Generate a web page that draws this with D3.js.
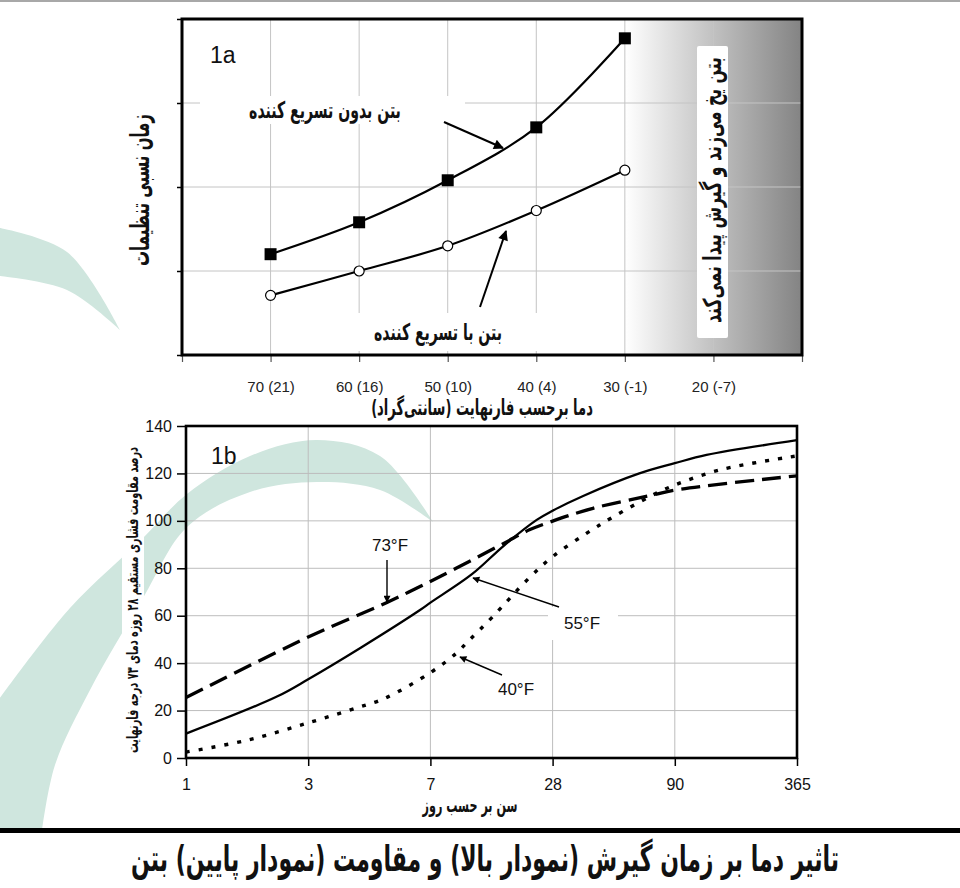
<!DOCTYPE html>
<html>
<head>
<meta charset="utf-8">
<script src="https://cdn.jsdelivr.net/npm/d3@7"></script>
<style>
  body { margin: 0; background: #fff; }
  svg { display: block; }
</style>
</head>
<body>
<div id="chart"></div>
<script>
// ---- data ----
// 1a: relative setting time vs temperature
const tempLabels = ["70 (21)", "60 (16)", "50 (10)", "40 (4)", "30 (-1)", "20 (-7)"];
const setNoAccel = [1.2, 1.58, 2.08, 2.71, 3.77];   // squares
const setAccel   = [0.71, 1.0, 1.30, 1.72, 2.2];    // circles

// 1b: % of 28-day strength vs age (equal-spaced categories)
const ageLabels = ["1", "3", "7", "28", "90", "365"];
const strengthTicks = [0, 20, 40, 60, 80, 100, 120, 140];
// positions are fractions along the category axis (0 = "1", 5 = "365")
const pos55 = [0, 0.74, 1, 1.43, 1.915, 2, 2.34, 2.6, 2.87, 3, 3.25, 3.71, 4, 4.26, 5];
const val55 = [10.3, 25.8, 33.2, 46.5, 62.4, 65.5, 77.5, 89.5, 100.4, 104.3, 110.5, 120, 124.3, 127.8, 134];
const pos73 = [0, 1, 1.64, 1.915, 2.21, 2.6, 2.81, 3, 3.33, 3.82, 4, 5];
const val73 = [25.5, 51, 65.5, 72.3, 80, 90.5, 96.2, 99.9, 105.3, 110.9, 113, 119];
const pos40 = [0, 0.5, 1, 1.42, 1.62, 2, 2.21, 2.32, 2.51, 2.79, 3, 3.28, 3.5, 3.82, 4, 4.37, 5];
const val40 = [2.5, 7.5, 14.8, 21.5, 25, 36, 44.1, 49.8, 59.6, 75, 84.9, 94.8, 101.8, 110.9, 115.1, 121.5, 127.4];

const W = 960, H = 888;
const faFont = "'DejaVu Sans', sans-serif";
const numFont = "'Liberation Sans', Arial, sans-serif";

const svg = d3.select("#chart").append("svg")
  .attr("width", W).attr("height", H)
  .attr("viewBox", `0 0 ${W} ${H}`);

svg.append("rect").attr("width", W).attr("height", H).attr("fill", "#fff");
svg.append("rect").attr("width", W).attr("height", 2).attr("fill", "#a8a8a8");

const defs = svg.append("defs");

// arrow heads
function arrowMarker(id, w, h) {
  defs.append("marker")
    .attr("id", id)
    .attr("viewBox", "0 0 10 10")
    .attr("refX", 9).attr("refY", 5)
    .attr("markerUnits", "userSpaceOnUse")
    .attr("markerWidth", w).attr("markerHeight", h)
    .attr("orient", "auto")
    .append("path").attr("d", "M0,0 L10,5 L0,10 Z").attr("fill", "#000");
}
arrowMarker("arrowBig", 14, 10);
arrowMarker("arrowSmall", 10, 7);

// ---- watermark arcs (light teal logo behind) ----
const wm = svg.append("g").attr("fill", "#cfe6de");
const smooth = d3.line().curve(d3.curveCatmullRom);
const smallOuter = [[0, 228], [67, 252], [120, 330]];
const smallInner = [[120, 330], [67, 290], [0, 276]];
wm.append("path").attr("d", smooth(smallOuter) + smooth(smallInner).replace("M", "L") + "Z");
const bigOuter = [[0, 698], [70, 608], [143, 538], [187, 494], [250, 456], [317, 440], [380, 456], [433, 522]];
const bigInner = [[433, 522], [380, 490], [317, 482], [250, 492], [187, 527], [143, 598], [90, 690], [55, 765], [42, 830]];
wm.append("path").attr("d", smooth(bigOuter) + smooth(bigInner).replace("M", "L") + "L0,830Z");

// Persian text: font size sets the glyph height, then the run is squeezed
// horizontally to the width it takes in the reference
function faText(g, x, y, txt, size, width, rotate) {
  const t = g.append("text")
    .attr("font-family", faFont)
    .attr("font-weight", "bold")
    .attr("font-size", size)
    .attr("direction", "rtl")
    .attr("text-anchor", "middle")
    .attr("fill", "#111")
    .attr("dy", "0.3em")
    .text(txt);
  let sx = 1;
  if (width) {
    const w = t.node().getComputedTextLength();
    if (w > 0) sx = width / w;
  }
  t.attr("transform", `translate(${x},${y})` + (rotate ? ` rotate(${rotate})` : "") + ` scale(${sx.toFixed(3)},1)`);
  return t;
}

// =================== 1a ===================
const a = { left: 182, right: 802, top: 19, bottom: 355 };
const xa = d3.scaleLinear().domain([-1, 6]).range([a.left, a.right]);
const ya = d3.scaleLinear().domain([0, 4]).range([a.bottom, a.top]);
const ga = svg.append("g");

// freezing zone gradient
const grad = defs.append("linearGradient")
  .attr("id", "freezeGrad")
  .attr("gradientUnits", "userSpaceOnUse")
  .attr("x1", xa(4)).attr("x2", xa(6)).attr("y1", 0).attr("y2", 0);
grad.append("stop").attr("offset", "0%").attr("stop-color", "#ffffff");
grad.append("stop").attr("offset", "100%").attr("stop-color", "#838383");
ga.append("rect")
  .attr("x", xa(4)).attr("y", a.top)
  .attr("width", xa(6) - xa(4)).attr("height", a.bottom - a.top)
  .attr("fill", "url(#freezeGrad)");

// grid
ga.append("g").selectAll("line").data(d3.range(0, 6)).join("line")
  .attr("x1", d => xa(d)).attr("x2", d => xa(d))
  .attr("y1", a.top).attr("y2", a.bottom)
  .attr("stroke", "#c4c4c4").attr("stroke-width", 1);
ga.append("g").selectAll("line").data([1, 2, 3]).join("line")
  .attr("x1", a.left).attr("x2", a.right)
  .attr("y1", d => ya(d)).attr("y2", d => ya(d))
  .attr("stroke", "#c4c4c4").attr("stroke-width", 1);

// x axis (ticks below frame)
const axA = ga.append("g")
  .attr("transform", `translate(0,${a.bottom})`)
  .call(d3.axisBottom(xa).tickValues(d3.range(-1, 7)).tickSize(7)
    .tickFormat(d => (d >= 0 && d <= 5) ? tempLabels[d] : ""));
axA.select(".domain").remove();
axA.selectAll(".tick line").attr("stroke", "#555").attr("stroke-width", 1.2);
axA.selectAll(".tick text")
  .attr("font-family", numFont).attr("font-size", 15).attr("fill", "#222")
  .attr("dy", "1.8em");

// y axis ticks (no labels)
const ayA = ga.append("g")
  .attr("transform", `translate(${a.left},0)`)
  .call(d3.axisLeft(ya).tickValues([0, 1, 2, 3, 4]).tickSize(5).tickFormat(""));
ayA.select(".domain").remove();
ayA.selectAll(".tick line").attr("stroke", "#000").attr("stroke-width", 1.5);

// label boxes
ga.append("rect").attr("x", 200).attr("y", 96).attr("width", 265).attr("height", 28).attr("fill", "#fff");
ga.append("rect").attr("x", 330).attr("y", 313).attr("width", 230).attr("height", 38).attr("fill", "#fff");
ga.append("rect").attr("x", 697).attr("y", 46).attr("width", 31).attr("height", 292)
  .attr("rx", 2).attr("fill", "#fff");

// lines
const lineA = d3.line().x((d, i) => xa(i)).y(d => ya(d)).curve(d3.curveCatmullRom);
ga.append("path").datum(setNoAccel).attr("d", lineA)
  .attr("fill", "none").attr("stroke", "#000").attr("stroke-width", 2.2);
ga.append("path").datum(setAccel).attr("d", lineA)
  .attr("fill", "none").attr("stroke", "#000").attr("stroke-width", 2.2);

ga.append("g").selectAll("rect").data(setNoAccel).join("rect")
  .attr("x", (d, i) => xa(i) - 6).attr("y", d => ya(d) - 6)
  .attr("width", 12).attr("height", 12).attr("fill", "#000");
ga.append("g").selectAll("circle").data(setAccel).join("circle")
  .attr("cx", (d, i) => xa(i)).attr("cy", d => ya(d)).attr("r", 5)
  .attr("fill", "#fff").attr("stroke", "#000").attr("stroke-width", 1.2);

// frame
ga.append("rect")
  .attr("x", a.left).attr("y", a.top)
  .attr("width", a.right - a.left).attr("height", a.bottom - a.top)
  .attr("fill", "none").attr("stroke", "#000").attr("stroke-width", 3);

// annotations
ga.append("text").attr("x", 210).attr("y", 63)
  .attr("font-family", numFont).attr("font-size", 23).attr("fill", "#111").text("1a");
faText(ga, 325, 111, "بتن بدون تسریع کننده", 23, 152);
faText(ga, 438, 333, "بتن با تسریع کننده", 23, 128);
ga.append("line").attr("x1", 444).attr("y1", 122).attr("x2", 503).attr("y2", 148)
  .attr("stroke", "#000").attr("stroke-width", 2).attr("marker-end", "url(#arrowBig)");
ga.append("line").attr("x1", 480).attr("y1", 307).attr("x2", 506).attr("y2", 231)
  .attr("stroke", "#000").attr("stroke-width", 2).attr("marker-end", "url(#arrowBig)");
faText(ga, 713, 190, "بتن یخ می‌زند و گیرش پیدا نمی‌کند", 25, 266, -90);

// axis titles
ga.append("rect").attr("x", 127).attr("y", 90).attr("width", 27).attr("height", 217).attr("fill", "#fff");
faText(ga, 141, 190, "زمان نسبی تنظیمات", 26, 152, -90);
faText(ga, 482, 408, "دما برحسب فارنهایت (سانتی‌گراد)", 22, 222);

// =================== 1b ===================
const b = { left: 186, right: 797, top: 426, bottom: 758 };
const xb = d3.scaleLinear().domain([0, 5]).range([b.left, b.right]);
const yb = d3.scaleLinear().domain([0, 140]).range([b.bottom, b.top]);
const gb = svg.append("g");

gb.append("g").selectAll("line").data(d3.range(1, 5)).join("line")
  .attr("x1", d => xb(d)).attr("x2", d => xb(d))
  .attr("y1", b.top).attr("y2", b.bottom)
  .attr("stroke", "#bdbdbd").attr("stroke-width", 1);
gb.append("g").selectAll("line").data(strengthTicks.slice(1, -1)).join("line")
  .attr("x1", b.left).attr("x2", b.right)
  .attr("y1", d => yb(d)).attr("y2", d => yb(d))
  .attr("stroke", "#bdbdbd").attr("stroke-width", 1);

const axB = gb.append("g")
  .attr("transform", `translate(0,${b.bottom})`)
  .call(d3.axisBottom(xb).tickValues(d3.range(0, 6)).tickSize(8)
    .tickFormat(d => ageLabels[d]));
axB.select(".domain").remove();
axB.selectAll(".tick line").attr("stroke", "#000").attr("stroke-width", 1.5);
axB.selectAll(".tick text")
  .attr("font-family", numFont).attr("font-size", 16).attr("fill", "#111").attr("dy", "1.3em");

const ayB = gb.append("g")
  .attr("transform", `translate(${b.left},0)`)
  .call(d3.axisLeft(yb).tickValues(strengthTicks).tickSize(9));
ayB.select(".domain").remove();
ayB.selectAll(".tick line").attr("stroke", "#000").attr("stroke-width", 1.5);
ayB.selectAll(".tick text")
  .attr("font-family", numFont).attr("font-size", 16).attr("fill", "#111").attr("x", -14);

// label box
gb.append("rect").attr("x", 548).attr("y", 607).attr("width", 70).attr("height", 33).attr("fill", "#fff");

const lineB = d3.line().x(d => xb(d[0])).y(d => yb(d[1])).curve(d3.curveCatmullRom);
gb.append("path").datum(d3.zip(pos73, val73)).attr("d", lineB)
  .attr("fill", "none").attr("stroke", "#000").attr("stroke-width", 3.3)
  .attr("stroke-dasharray", "19,8");
gb.append("path").datum(d3.zip(pos40, val40)).attr("d", lineB)
  .attr("fill", "none").attr("stroke", "#000").attr("stroke-width", 3.4)
  .attr("stroke-dasharray", "4,9");
gb.append("path").datum(d3.zip(pos55, val55)).attr("d", lineB)
  .attr("fill", "none").attr("stroke", "#000").attr("stroke-width", 2.3);

gb.append("rect")
  .attr("x", b.left).attr("y", b.top)
  .attr("width", b.right - b.left).attr("height", b.bottom - b.top)
  .attr("fill", "none").attr("stroke", "#000").attr("stroke-width", 2.6);

gb.append("text").attr("x", 211).attr("y", 464)
  .attr("font-family", numFont).attr("font-size", 23).attr("fill", "#111").text("1b");

function tempLabel(x, y, t) {
  gb.append("text").attr("x", x).attr("y", y).attr("text-anchor", "middle")
    .attr("font-family", numFont).attr("font-size", 17).attr("fill", "#111").text(t);
}
tempLabel(390, 551, "73°F");
tempLabel(582, 629, "55°F");
tempLabel(516, 695, "40°F");
gb.append("line").attr("x1", 387).attr("y1", 560).attr("x2", 387).attr("y2", 602)
  .attr("stroke", "#000").attr("stroke-width", 1.4).attr("marker-end", "url(#arrowSmall)");
gb.append("line").attr("x1", 559).attr("y1", 607).attr("x2", 473).attr("y2", 578)
  .attr("stroke", "#000").attr("stroke-width", 1.4).attr("marker-end", "url(#arrowSmall)");
gb.append("line").attr("x1", 502).attr("y1", 675).attr("x2", 460).attr("y2", 657)
  .attr("stroke", "#000").attr("stroke-width", 1.4).attr("marker-end", "url(#arrowSmall)");

gb.append("rect").attr("x", 122).attr("y", 440).attr("width", 22).attr("height", 320).attr("fill", "#fff");
faText(gb, 133, 600, "درصد مقاومت فشاری مستقیم ۲۸ روزه دمای ۷۳ درجه فارنهایت", 16, 306, -90);
faText(gb, 470, 806, "سن بر حسب روز", 20, 95);

// bottom rule and caption
svg.append("rect").attr("x", 0).attr("y", 828).attr("width", W).attr("height", 5).attr("fill", "#000");
faText(svg, 485, 860, "تاثیر دما بر زمان گیرش (نمودار بالا) و مقاومت (نمودار پایین) بتن", 36, 708);
</script>
</body>
</html>
